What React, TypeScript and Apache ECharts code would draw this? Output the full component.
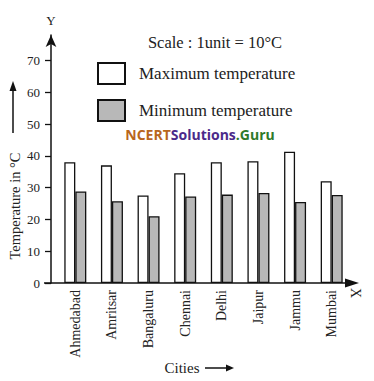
import React, { useEffect, useRef } from "react";
import * as echarts from "echarts";

const cities = ["Ahmedabad", "Amritsar", "Bangaluru", "Chennai", "Delhi", "Jaipur", "Jammu", "Mumbai"];
const maxTemp = [38, 37, 27.5, 34.5, 38, 38.3, 41.3, 32];
const minTemp = [28.8, 25.7, 21, 27.2, 27.8, 28.3, 25.5, 27.7];
const yTicks = [0, 10, 20, 30, 40, 50, 60, 70];

const SERIF = "'Liberation Serif', 'DejaVu Serif', serif";

export default function App() {
  const ref = useRef<HTMLDivElement>(null);
  useEffect(() => {
    if (!ref.current) return;
    const chart = echarts.init(ref.current, null, { renderer: "svg" });
    chart.setOption({
      animation: false,
      backgroundColor: "#ffffff",
      textStyle: { fontFamily: SERIF, color: "#222" },
      grid: { left: 57, right: 24, top: 35, bottom: 98, containLabel: false, outerBoundsMode: "none" },
      legend: {
        orient: "vertical",
        left: 97,
        top: 62,
        padding: 0,
        itemWidth: 27,
        itemHeight: 21,
        itemGap: 14,
        icon: "rect",
        textStyle: { fontFamily: SERIF, fontSize: 17, color: "#222", padding: [0, 0, 0, 9] },
        data: ["Maximum temperature", "Minimum temperature"],
      },
      xAxis: {
        type: "category",
        data: cities,
        boundaryGap: true,
        axisLine: { show: false },
        axisTick: { show: false },
        axisLabel: { rotate: 90, margin: 7, fontFamily: SERIF, fontSize: 14, color: "#222", interval: 0 },
      },
      yAxis: {
        type: "value",
        min: 0,
        max: 78,
        interval: 10,
        offset: 6,
        name: "Y",
        nameLocation: "end",
        nameGap: 8,
        nameTextStyle: { fontFamily: SERIF, fontSize: 13, color: "#222" },
        splitLine: { show: false },
        axisLine: { show: true, lineStyle: { color: "#111", width: 1.5 }, symbol: ["none", "arrow"], symbolSize: [8, 12] },
        axisTick: { show: true, length: 6, lineStyle: { color: "#111", width: 1.3 }, customValues: yTicks },
        axisLabel: { margin: 11, fontFamily: SERIF, fontSize: 13, color: "#222", customValues: yTicks },
      },
      graphic: [
        { type: "line", shape: { x1: 44, y1: 283, x2: 350, y2: 283 }, style: { stroke: "#111", lineWidth: 1.5 } },
        { type: "polygon", shape: { points: [[345, 278.5], [359, 283], [345, 287.5]] }, style: { fill: "#111" } },
        { type: "text", x: 355, y: 293, rotation: -Math.PI / 2, style: { text: "X", font: `14px ${SERIF}`, fill: "#222", align: "center", verticalAlign: "middle" } },
        { type: "text", x: 15, y: 206, rotation: Math.PI / 2, style: { text: "Temperature in °C", font: `14.5px ${SERIF}`, fill: "#222", align: "center", verticalAlign: "middle" } },
        { type: "line", shape: { x1: 13, y1: 133, x2: 13, y2: 88 }, style: { stroke: "#111", lineWidth: 1.5 } },
        { type: "polygon", shape: { points: [[9.5, 91], [13, 81], [16.5, 91]] }, style: { fill: "#111" } },
        { type: "text", x: 215, y: 42, style: { text: "Scale : 1unit = 10°C", font: `16.5px ${SERIF}`, fill: "#222", align: "center", verticalAlign: "middle" } },
        { type: "text", x: 182, y: 368, style: { text: "Cities", font: `15px ${SERIF}`, fill: "#222", align: "center", verticalAlign: "middle" } },
        { type: "line", shape: { x1: 205, y1: 368, x2: 228, y2: 368 }, style: { stroke: "#111", lineWidth: 1.5 } },
        { type: "polygon", shape: { points: [[226, 364.5], [234, 368], [226, 371.5]] }, style: { fill: "#111" } },
        {
          type: "text",
          x: 200,
          y: 134,
          style: {
            text: "{a|NCERT}{b|Solutions}{c|.Guru}",
            align: "center",
            verticalAlign: "middle",
            rich: {
              a: { fontFamily: "'Open Sans', 'Noto Sans', sans-serif", fontWeight: "bold", fontSize: 14, fill: "#b8661c", color: "#b8661c" },
              b: { fontFamily: "'Open Sans', 'Noto Sans', sans-serif", fontWeight: "bold", fontSize: 14, fill: "#4b2a8a", color: "#4b2a8a" },
              c: { fontFamily: "'Open Sans', 'Noto Sans', sans-serif", fontWeight: "bold", fontSize: 14, fill: "#2f7a2a", color: "#2f7a2a" },
            },
          },
        },
      ],
      series: [
        {
          name: "Maximum temperature",
          type: "bar",
          data: maxTemp,
          barWidth: 11,
          barGap: "0%",
          itemStyle: { color: "#ffffff", borderColor: "#111", borderWidth: 1.3 },
        },
        {
          name: "Minimum temperature",
          type: "bar",
          data: minTemp,
          barWidth: 11,
          barGap: "0%",
          itemStyle: { color: "#b8b8b8", borderColor: "#111", borderWidth: 1.3 },
        },
      ],
    });
    return () => chart.dispose();
  }, []);
  return <div ref={ref} style={{ width: 374, height: 381, position: "absolute", left: 0, top: 0 }} />;
}
